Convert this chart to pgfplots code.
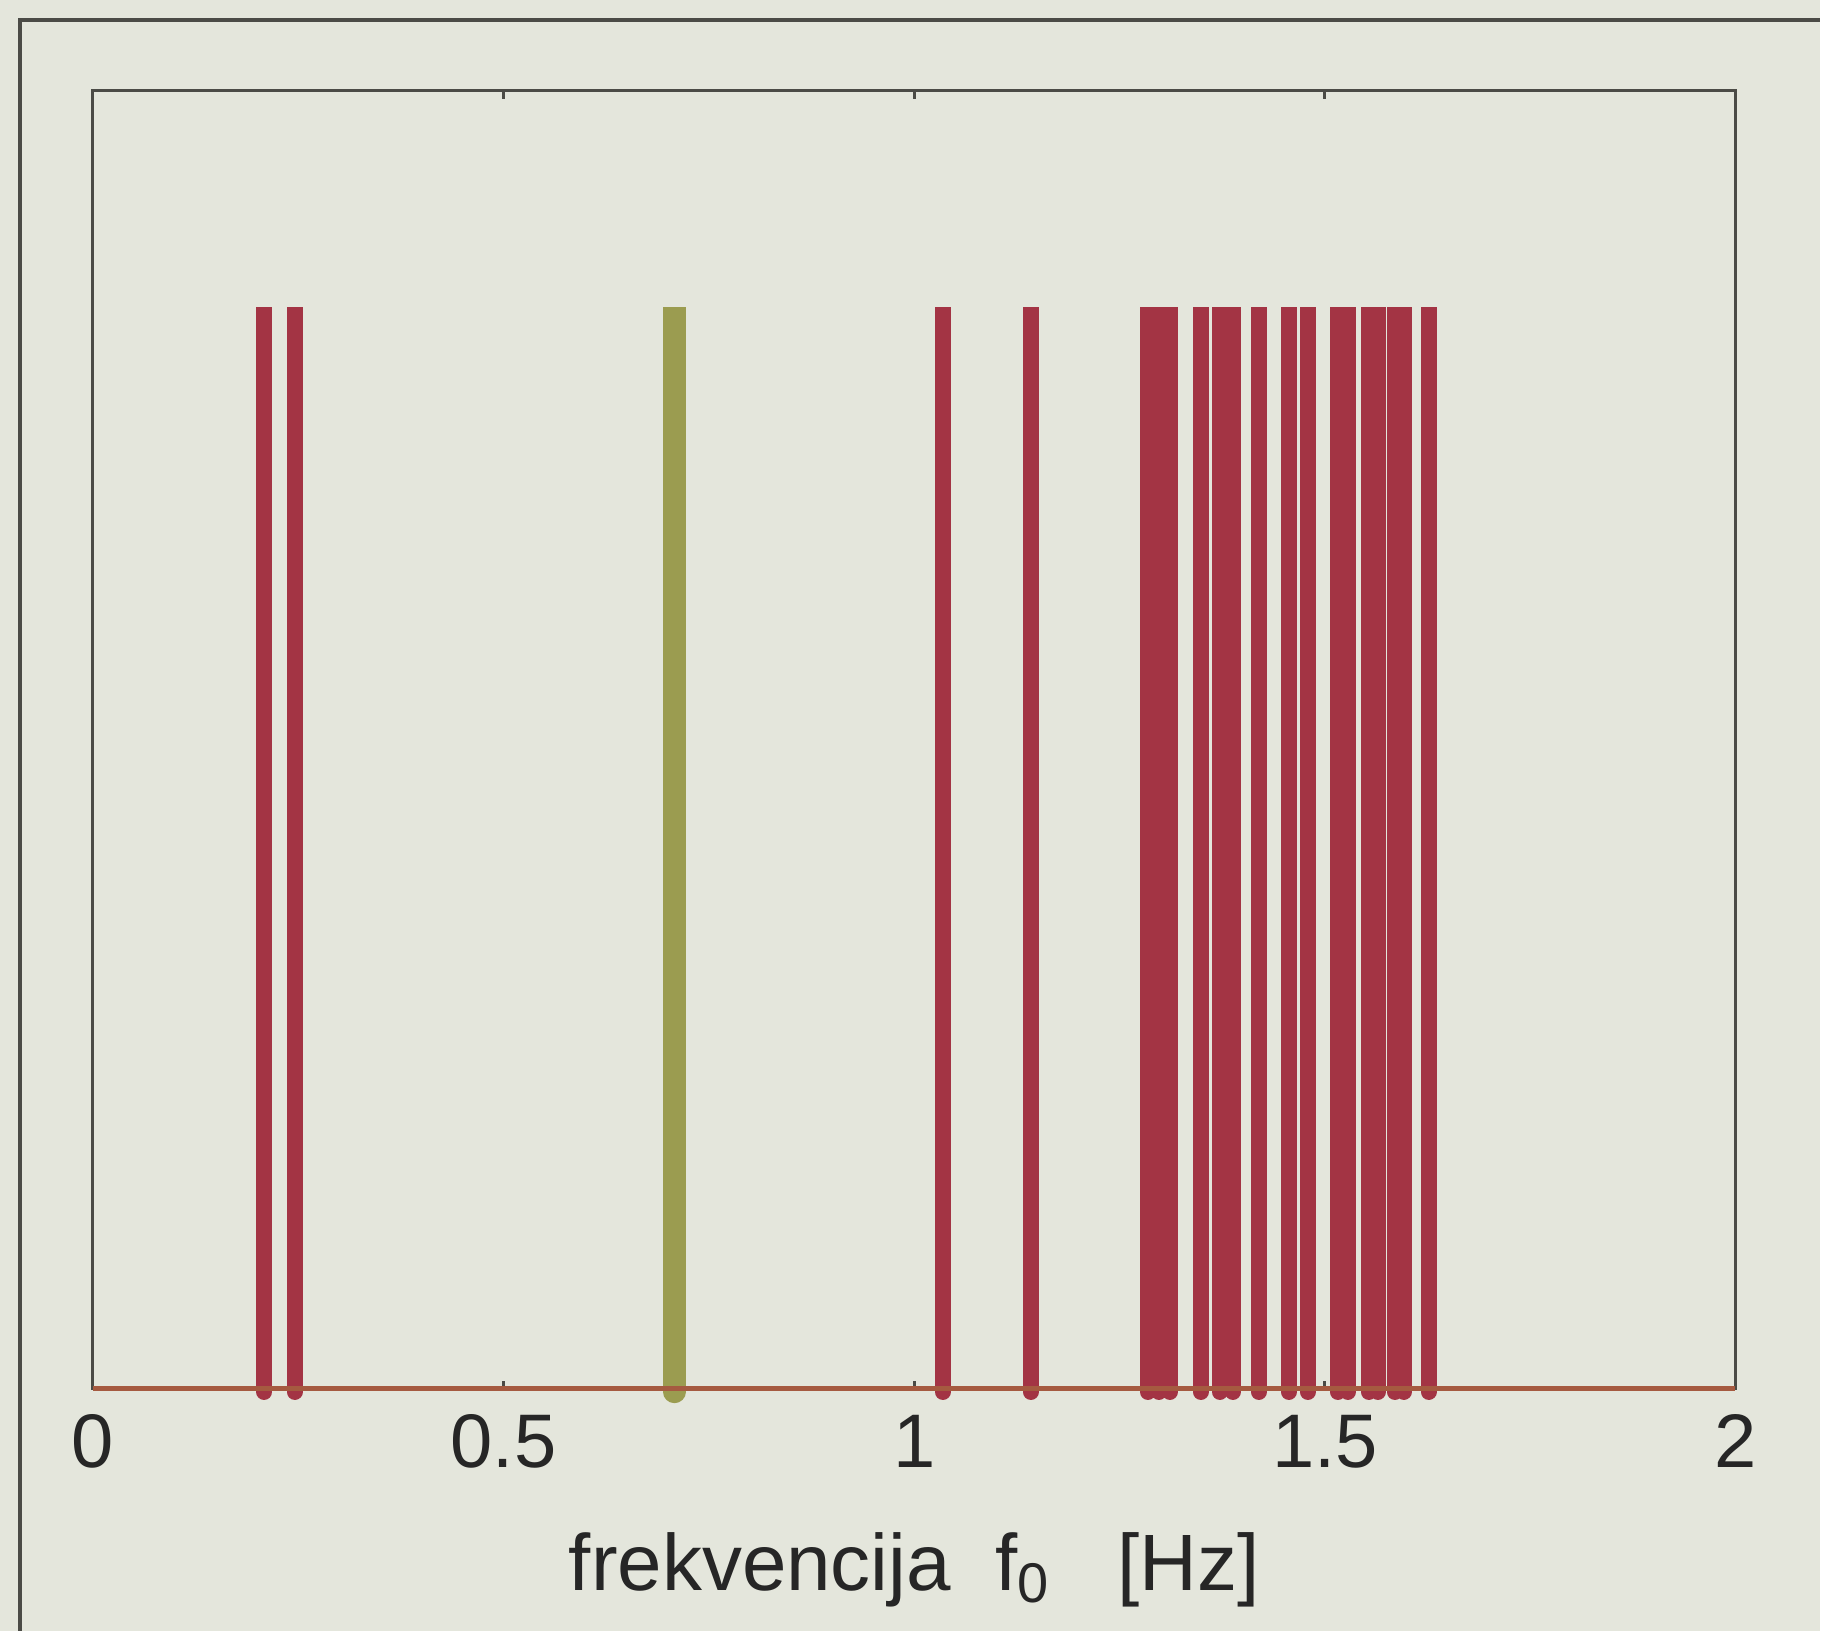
\documentclass[border=0pt]{standalone}
\usepackage{pgfplots}
\usepackage{pgfplotstable}
\pgfplotsset{compat=1.18}
\usepackage{fontspec}
\setmainfont{Liberation Sans}
\definecolor{bg}{RGB}{228,230,220}
\definecolor{barred}{RGB}{163,52,68}
\definecolor{olivebar}{RGB}{155,156,80}
\definecolor{basecol}{RGB}{165,90,64}
\definecolor{framec}{RGB}{75,75,70}
\pgfplotstableread{
f      h    lo
0.2086 1.0 -0.003
0.2457 1.0 -0.003
1.0350 1.0 -0.003
1.1420 1.0 -0.003
1.2847 1.0 -0.003
1.2981 1.0 -0.003
1.3114 1.0 -0.003
1.3491 1.0 -0.003
1.3723 1.0 -0.003
1.3881 1.0 -0.003
1.4197 1.0 -0.003
1.4562 1.0 -0.003
1.4793 1.0 -0.003
1.5158 1.0 -0.003
1.5280 1.0 -0.003
1.5535 1.0 -0.003
1.5645 1.0 -0.003
1.5852 1.0 -0.003
1.5961 1.0 -0.003
1.6265 1.0 -0.003
}\redmodes
\begin{document}
\begin{tikzpicture}
\fill[bg] (0pt,0pt) rectangle (455.5pt,-408pt);
\draw[framec, line width=0.85pt] (5pt,-408pt) -- (5pt,-5pt) -- (455.5pt,-5pt);
\begin{axis}[
  at={(23.25pt,-347.5pt)}, anchor=south west,
  scale only axis, width=411pt, height=324.75pt,
  xmin=0, xmax=2, ymin=0, ymax=1.2,
  xtick={0,0.5,1,1.5,2}, ytick=\empty,
  xticklabels={0,0.5,1,1.5,2},
  xtick pos=both,
  tick align=inside, major tick length=2pt,
  axis line style={framec, line width=0.75pt},
  tick style={framec, line width=0.75pt},
  /pgf/number format/assume math mode=true,
  ticklabel style={font=\fontsize{19}{22}\selectfont, text=black!85},
  xticklabel style={yshift=-3pt},
  xlabel={frekvencija\ \ f\textsubscript{0}\ \ \ [Hz]},
  xlabel style={font=\fontsize{20}{24}\selectfont, text=black!85, at={(axis description cs:0.5,0)}, anchor=base, yshift=-50.5pt},
  clip=false,
]
% upper part of each mode line (flat top)
\addplot[ycomb, mark=none, barred, line width=4pt, line cap=butt]
  table[x=f, y=h] {\redmodes};
% short rounded end just below the axis
\addplot[ycomb, mark=none, barred, line width=4pt, line cap=round]
  table[x=f, y=lo] {\redmodes};
\addplot[ycomb, mark=none, olivebar, line width=5.6pt, line cap=butt] coordinates {(0.708,1.0)};
\addplot[ycomb, mark=none, olivebar, line width=5.6pt, line cap=round] coordinates {(0.708,-0.003)};
\addplot[basecol, line width=1.25pt, mark=none] coordinates {(0,0) (2,0)};
\end{axis}
\end{tikzpicture}
\end{document}
